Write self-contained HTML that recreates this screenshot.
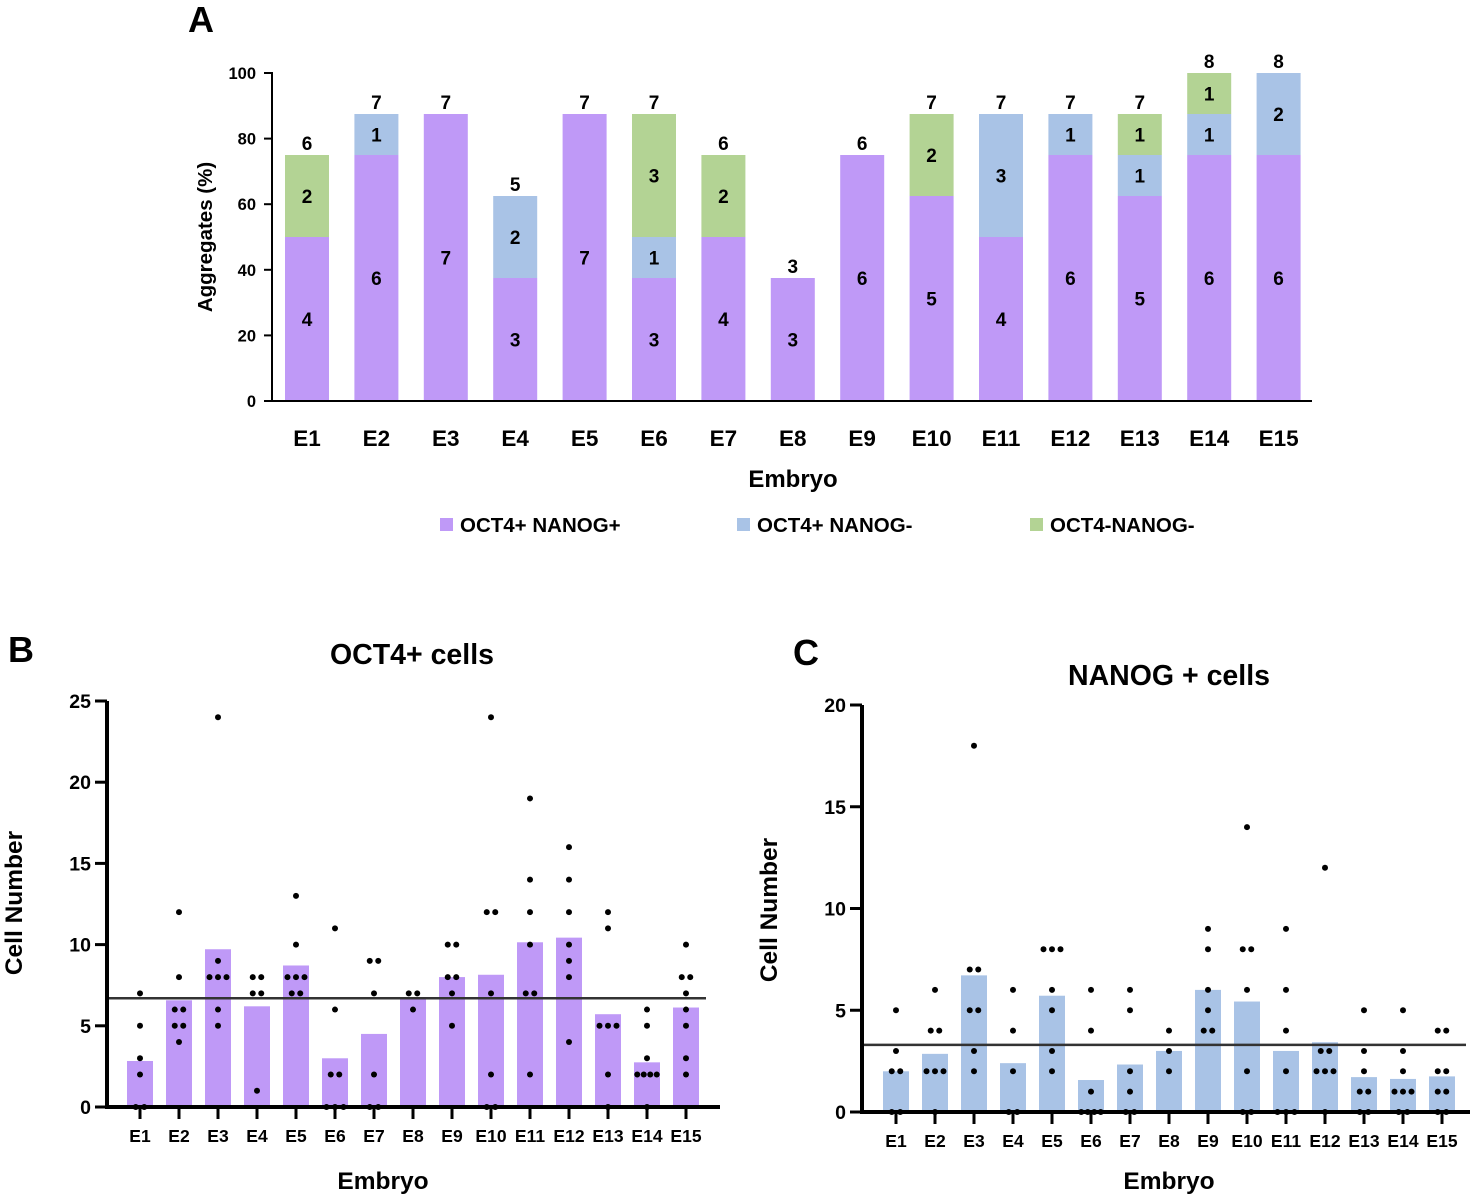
<!DOCTYPE html>
<html><head><meta charset="utf-8"><style>
body{margin:0;background:#fff}
svg{display:block;font-family:"Liberation Sans",Arial,sans-serif;font-weight:bold}
</style></head><body>
<svg id="s" width="1480" height="1198" viewBox="0 0 1480 1198">
<text x="188" y="32" font-size="36">A</text>
<text x="8" y="662" font-size="36">B</text>
<text x="793" y="665" font-size="36">C</text>
<text x="412" y="664" font-size="28.5" text-anchor="middle">OCT4+ cells</text>
<text x="1169" y="685" font-size="28.5" text-anchor="middle">NANOG + cells</text>
<g id="A"></g>
<g id="B"></g>
<g id="C"></g>
</svg>
<script>
const NS="http://www.w3.org/2000/svg";
const catsA=["E1","E2","E3","E4","E5","E6","E7","E8","E9","E10","E11","E12","E13","E14","E15"];
const purpleA=[4,6,7,3,7,3,4,3,6,5,4,6,5,6,6];
const blueA=[0,1,0,2,0,1,0,0,0,0,3,1,1,1,2];
const greenA=[2,0,0,0,0,3,2,0,0,2,0,0,1,1,0];
const ticksA=[0,20,40,60,80,100];
const legendA=["OCT4+ NANOG+","OCT4+ NANOG-","OCT4-NANOG-"];
const cellsB=[[0,0,2,3,5,7],[12,8,6,6,5,5,4],[24,9,8,8,8,6,5],[8,8,7,7,1],[13,10,8,8,8,7,7],[11,6,2,2,0,0,0],[9,9,7,2,0,0],[7,7,6],[10,10,8,8,7,5],[24,12,12,7,2,0,0],[19,14,12,10,7,7,2],[16,14,12,10,9,8,4],[12,11,5,5,5,2,0],[6,5,3,2,2,2,2,0],[10,8,8,7,6,5,3,2]];
const cellsC=[[5,3,2,2,0,0],[6,4,4,2,2,2,0],[18,7,7,5,5,3,2],[6,4,2,0,0],[8,8,8,6,5,3,2],[6,4,1,0,0,0,0],[6,5,2,1,0,0],[4,3,2],[9,8,6,5,4,4],[14,8,8,6,2,0,0],[9,6,4,2,0,0,0],[12,3,3,2,2,2,0],[5,3,2,1,1,0,0],[5,3,2,1,1,1,0,0],[4,4,2,2,1,1,0,0]];
const meanB=6.7, meanC=3.3;
const ticksB=[0,5,10,15,20,25], ticksC=[0,5,10,15,20];
const COL={p:"#bf99f7",b:"#a9c3e6",g:"#b3d394"};

function el(p,t,a,txt){const e=document.createElementNS(NS,t);for(const k in a)e.setAttribute(k,a[k]);if(txt!==undefined)e.textContent=txt;p.appendChild(e);return e;}

(function(){
const g=document.getElementById('A');
const y=v=>401-v*3.28, x=i=>307+i*69.4, pct=c=>c*12.5;
ticksA.forEach(t=>{
 const tk=el(g,'line',{x1:264,x2:272,y1:y(t),y2:y(t),stroke:'#000','stroke-width':2});
 
 const l=el(g,'text',{x:256,y:y(t)+6,'font-size':16.5,'text-anchor':'end'},t);
 
});
catsA.forEach((c,i)=>{
 let base=0;
 [[purpleA[i],COL.p,'purple'],[blueA[i],COL.b,'blue'],[greenA[i],COL.g,'green']].forEach(([n,col,nm])=>{
  if(!n)return;
  const r=el(g,'rect',{x:x(i)-22,y:y(pct(base+n)),width:44,height:pct(n)*3.28,fill:col});
  
  const t=el(g,'text',{x:x(i),y:y(pct(base+n/2))+7,'font-size':19,'text-anchor':'middle'},n);
  
  base+=n;
 });
 const tt=el(g,'text',{x:x(i),y:y(pct(base))-5,'font-size':19,'text-anchor':'middle'},base);
 
 const xl=el(g,'text',{x:x(i),y:446,'font-size':22.5,'text-anchor':'middle'},c);
 
});
const ax=el(g,'path',{d:'M272 72V401H1312',fill:'none',stroke:'#000','stroke-width':2});

const yt=el(g,'text',{x:0,y:0,'font-size':20.5,'text-anchor':'middle',transform:'translate(212,237) rotate(-90)'},'Aggregates (%)');

const xt=el(g,'text',{x:793,y:487,'font-size':24,'text-anchor':'middle'},'Embryo');

const lx=[440,737,1030],lc=[COL.p,COL.b,COL.g];
legendA.forEach((s,i)=>{
 const r=el(g,'rect',{x:lx[i],y:518,width:13,height:13,fill:lc[i]});
 
 const t=el(g,'text',{x:lx[i]+20,y:532,'font-size':20.5},s);
 
});
})();

function dotChart(id,cells,mean,ticks,o){
 const g=document.getElementById(id);
 const y=v=>o.y0-v*o.k, x=i=>o.x0+i*39;
 cells.forEach((vals,i)=>{
  const m=vals.reduce((a,b)=>a+b,0)/vals.length;
  const r=el(g,'rect',{x:x(i)-13,y:y(m),width:26,height:m*o.k,fill:o.col});
  
  const groups={};vals.forEach(v=>{groups[v]=(groups[v]||0)+1;});
  Object.keys(groups).forEach(v=>{
   const n=groups[v], sp=n>3?6.5:8.5;
   for(let j=0;j<n;j++){
    const d=el(g,'circle',{cx:x(i)+(j-(n-1)/2)*sp,cy:y(+v),r:3,fill:'#000'});
    
   }
  });
  const tk=el(g,'line',{x1:x(i),x2:x(i),y1:o.y0,y2:o.y0+12,stroke:'#000','stroke-width':3});
  
  const xl=el(g,'text',{x:x(i),y:o.y0+35,'font-size':17.5,'text-anchor':'middle'},catsA[i]);
  
 });
 ticks.forEach(t=>{
  const tk=el(g,'line',{x1:o.ax-12,x2:o.ax,y1:y(t),y2:y(t),stroke:'#000','stroke-width':3});
  
  const l=el(g,'text',{x:o.ax-16,y:y(t)+7,'font-size':19.5,'text-anchor':'end'},t);
  
 });
 const ml=el(g,'line',{x1:o.ax,x2:o.mx,y1:y(mean),y2:y(mean),stroke:'#333','stroke-width':2.5});
 
 const ax=el(g,'path',{d:`M${o.ax} ${y(ticks[ticks.length-1])}V${o.y0}H${o.ex}`,fill:'none',stroke:'#000','stroke-width':4});
 
 const yt=el(g,'text',{x:0,y:0,'font-size':24.5,'text-anchor':'middle',transform:`translate(${o.yt},${o.ytc}) rotate(-90)`},'Cell Number');
 
 const xt=el(g,'text',{x:o.xc,y:1189,'font-size':24.5,'text-anchor':'middle'},'Embryo');
 
}
dotChart('B',cellsB,meanB,ticksB,{y0:1107,k:16.24,x0:140,col:COL.p,ax:107,mx:706,ex:720,yt:22,ytc:903,xc:383});
dotChart('C',cellsC,meanC,ticksC,{y0:1112,k:20.35,x0:896,col:COL.b,ax:862,mx:1466,ex:1470,yt:777,ytc:910,xc:1169});
</script>
</body></html>
